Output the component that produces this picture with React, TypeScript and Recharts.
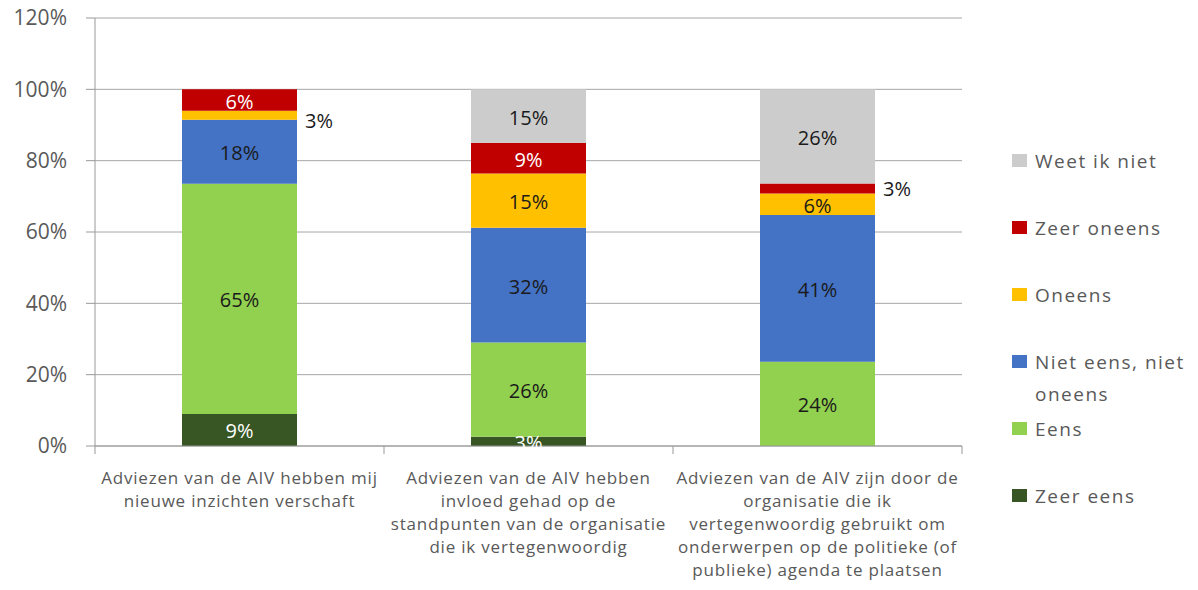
import React from "react";
import {
  BarChart,
  Bar,
  XAxis,
  YAxis,
  CartesianGrid,
  LabelList,
} from "recharts";

const categories = [
  "Adviezen van de AIV hebben mij\nnieuwe inzichten verschaft",
  "Adviezen van de AIV hebben\ninvloed gehad op de\nstandpunten van de organisatie\ndie ik vertegenwoordig",
  "Adviezen van de AIV zijn door de\norganisatie die ik\nvertegenwoordig gebruikt om\nonderwerpen op de politieke (of\npublieke) agenda te plaatsen",
];

// percentages per category, bottom to top
const zeerEens = [9, 2.6, 0];
const eens = [64.5, 26.4, 23.6];
const nietEens = [18, 32.2, 41.2];
const oneens = [2.5, 15.2, 6];
const zeerOneens = [6, 8.6, 2.8];
const weetIkNiet = [0, 15, 26.4];

const yTicks = [0, 20, 40, 60, 80, 100, 120];

const series = [
  { key: "zeerEens", name: "Zeer eens", values: zeerEens, color: "#375623", text: "#ffffff" },
  { key: "eens", name: "Eens", values: eens, color: "#92D050", text: "#1a1a1a" },
  { key: "nietEens", name: "Niet eens, niet oneens", values: nietEens, color: "#4472C4", text: "#1a1a1a" },
  { key: "oneens", name: "Oneens", values: oneens, color: "#FFC000", text: "#1a1a1a" },
  { key: "zeerOneens", name: "Zeer oneens", values: zeerOneens, color: "#C00000", text: "#ffffff" },
  { key: "weetIkNiet", name: "Weet ik niet", values: weetIkNiet, color: "#CCCCCC", text: "#1a1a1a" },
];

// labels that sit next to the bar instead of inside (too thin); value = vertical nudge
const outside: Record<string, Record<number, number>> = {
  oneens: { 0: 5 },
  zeerOneens: { 2: 0 },
};

const data = categories.map((c, i) => {
  const row: Record<string, any> = { name: c };
  series.forEach((s) => (row[s.key] = s.values[i]));
  return row;
});

const FONT = "'Open Sans', sans-serif";

const makeLabel = (s: (typeof series)[number]) => (props: any) => {
  const { x, y, width, height, value, index } = props;
  if (!value) return null;
  const txt = Math.round(value) + "%";
  const nudge = outside[s.key]?.[index];
  if (nudge !== undefined) {
    return (
      <text x={x + width + 8} y={y + height / 2 + nudge} fill="#1a1a1a" fontSize={20} fontFamily={FONT} dominantBaseline="central">
        {txt}
      </text>
    );
  }
  return (
    <text x={x + width / 2} y={y + height / 2 + 1} fill={s.text} fontSize={20} fontFamily={FONT} textAnchor="middle" dominantBaseline="central">
      {txt}
    </text>
  );
};

const CatTick = (props: any) => {
  const { x, y, payload, index } = props;
  const half = payload.offset || 144.5;
  const lines = String(payload.value).split("\n");
  return (
    <g>
      <line x1={x - half} x2={x - half} y1={y} y2={y + 8} stroke="#999" />
      {index === categories.length - 1 && (
        <line x1={x + half} x2={x + half} y1={y} y2={y + 8} stroke="#999" />
      )}
      {lines.map((l, i) => (
        <text key={i} x={x} y={y + 31 + i * 23} textAnchor="middle" dominantBaseline="central" fill="#595959" fontSize={17} letterSpacing={0.8} fontFamily={FONT}>
          {l}
        </text>
      ))}
    </g>
  );
};

const legendItems = [...series].reverse();

export default function App() {
  return (
    <div style={{ position: "absolute", left: 0, top: 0, width: 1198, height: 590, background: "#fff", fontFamily: FONT }}>
      <BarChart
        width={1198}
        height={590}
        data={data}
        margin={{ top: 18, right: 236, bottom: 0, left: 0 }}
      >
        <CartesianGrid vertical={false} stroke="#A6A6A6" />
        <XAxis
          dataKey="name"
          height={144}
          interval={0}
          tickSize={0}
          tickMargin={0}
          axisLine={{ stroke: "#999" }}
          tick={<CatTick />}
        />
        <YAxis
          width={95}
          domain={[0, 120]}
          ticks={yTicks}
          tickFormatter={(v) => v + "%"}
          axisLine={{ stroke: "#999" }}
          tickLine={{ stroke: "#999" }}
          tickSize={9}
          tickMargin={19}
          tick={{ fill: "#595959", fontSize: 21, fontFamily: FONT }}
        />
        {series.map((s) => (
          <Bar key={s.key} dataKey={s.key} name={s.name} stackId="a" fill={s.color} barSize={115} isAnimationActive={false}>
            <LabelList dataKey={s.key} content={makeLabel(s)} />
          </Bar>
        ))}
      </BarChart>
      {legendItems.map((s, i) => (
        <div
          key={s.key}
          style={{ position: "absolute", left: 1012, top: 161 + i * 67 - 16, width: 186, display: "flex", alignItems: "flex-start" }}
        >
          <div style={{ width: 15, height: 13, background: s.color, marginTop: 9, flex: "none" }} />
          <div style={{ marginLeft: 8, fontSize: 19, lineHeight: "32px", letterSpacing: 1.5, color: "#595959", width: 163 }}>{s.name}</div>
        </div>
      ))}
    </div>
  );
}
